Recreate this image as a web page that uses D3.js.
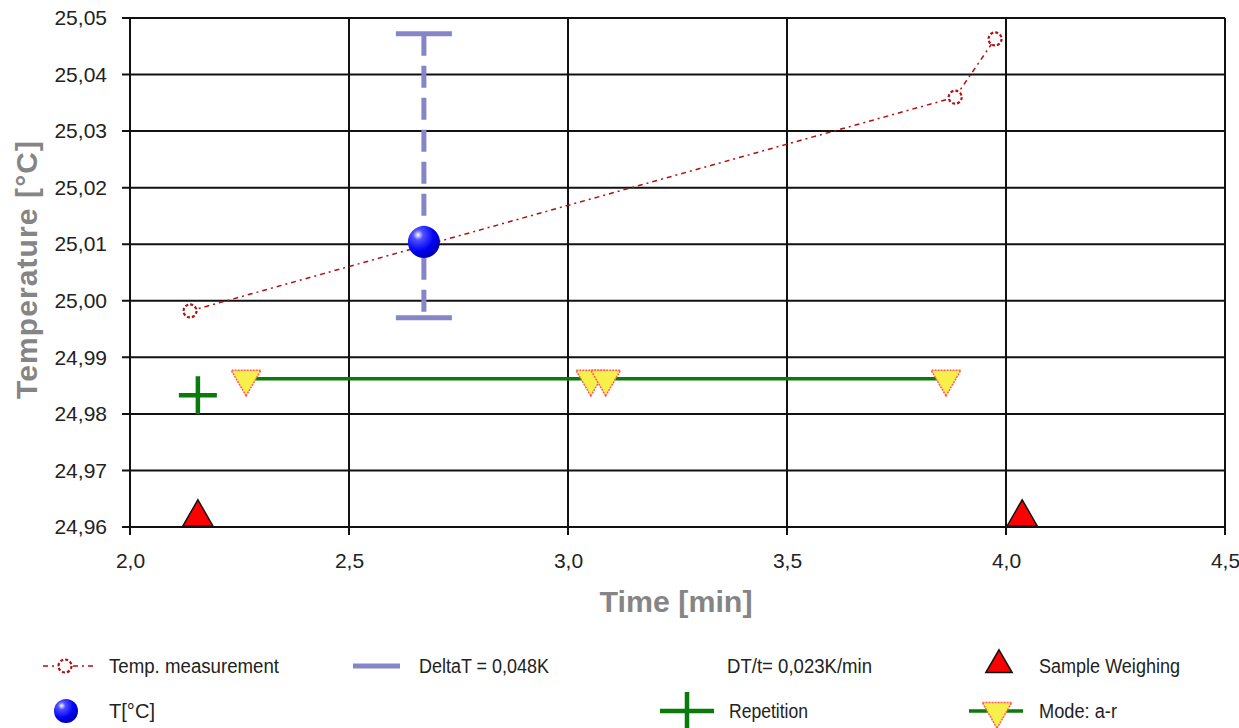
<!DOCTYPE html>
<html><head><meta charset="utf-8">
<script src="https://cdn.jsdelivr.net/npm/d3@7/dist/d3.min.js"></script>
<style>
html,body{margin:0;padding:0;background:#fff;}
svg{display:block;font-family:"Liberation Sans",Arial,sans-serif;}
</style></head>
<body>
<svg id="chart" width="1239" height="728"></svg>
<script>
// ---- data ----
const xTicks = [2.0, 2.5, 3.0, 3.5, 4.0, 4.5];
const yTicks = [24.96, 24.97, 24.98, 24.99, 25.00, 25.01, 25.02, 25.03, 25.04, 25.05];
const tempTime = [2.137, 3.884, 3.975];
const tempValue = [24.9982, 25.0360, 25.0463];
const meanTime = [2.671];
const meanValue = [25.0104];
const deltaLow = [24.9970];
const deltaHigh = [25.0472];
const repTime = [2.155];
const repValue = [24.9833];
const modeTime = [2.265, 3.052, 3.086, 3.863];
const modeValue = [24.9862, 24.9862, 24.9862, 24.9862];
const weighTime = [2.155, 4.037];
const weighValue = [24.9617, 24.9617];
const legendLabels = ["Temp. measurement", "DeltaT = 0,048K", "DT/t= 0,023K/min", "Sample Weighing", "T[°C]", "Repetition", "Mode: a-r"];

const svg = d3.select("#chart");
const x = d3.scaleLinear().domain([2.0, 4.5]).range([130, 1225]);
const y = d3.scaleLinear().domain([24.96, 25.05]).range([527, 18]);
const loc = d3.formatLocale({decimal: ",", thousands: ".", grouping: [3], currency: ["", ""]});
const fy = loc.format(".2f"), fx = loc.format(".1f");

const defs = svg.append("defs");
const rg = defs.append("radialGradient").attr("id", "ball").attr("cx", "32%").attr("cy", "28%").attr("r", "72%");
rg.append("stop").attr("offset", "0%").attr("stop-color", "#ffffff");
rg.append("stop").attr("offset", "22%").attr("stop-color", "#5050ff");
rg.append("stop").attr("offset", "70%").attr("stop-color", "#0000f5");
rg.append("stop").attr("offset", "100%").attr("stop-color", "#0000b8");

// ---- grid ----
const grid = svg.append("g");
grid.selectAll("line.h").data(yTicks).join("line")
  .attr("x1", x(2.0) - 8).attr("x2", x(4.5))
  .attr("y1", d => y(d)).attr("y2", d => y(d))
  .attr("stroke", "#111").attr("stroke-width", 2);
grid.selectAll("line.v").data(xTicks).join("line")
  .attr("x1", d => x(d)).attr("x2", d => x(d))
  .attr("y1", y(25.05)).attr("y2", y(24.96) + 8)
  .attr("stroke", "#111").attr("stroke-width", 2);

// ---- axes (labels) ----
const ya = svg.append("g").attr("transform", `translate(${x(2.0)},0)`)
  .call(d3.axisLeft(y).tickValues(yTicks).tickFormat(fy).tickSize(8).tickPadding(15));
ya.select(".domain").remove();
ya.selectAll("line").remove();
ya.selectAll("text").attr("font-size", 21).attr("fill", "#222").attr("font-family", "Liberation Sans, Arial");

const xa = svg.append("g").attr("transform", `translate(0,${y(24.96)})`)
  .call(d3.axisBottom(x).tickValues(xTicks).tickFormat(fx).tickSize(8).tickPadding(18));
xa.select(".domain").remove();
xa.selectAll("line").remove();
xa.selectAll("text").attr("font-size", 21).attr("fill", "#222").attr("font-family", "Liberation Sans, Arial");

// axis titles
svg.append("text").attr("x", 676).attr("y", 612).attr("text-anchor", "middle")
  .attr("font-size", 29).attr("font-weight", "bold").attr("fill", "#858585")
  .attr("textLength", 153).attr("lengthAdjust", "spacingAndGlyphs").text("Time [min]");
svg.append("text").attr("transform", "translate(37,270) rotate(-90)").attr("text-anchor", "middle")
  .attr("font-size", 30).attr("font-weight", "bold").attr("fill", "#858585")
  .attr("textLength", 258).attr("lengthAdjust", "spacing").text("Temperature [°C]");

// ---- marks ----
const tempPts = tempTime.map((t, i) => [t, tempValue[i]]);
const red = "#b01010";
svg.append("path").datum(tempPts)
  .attr("d", d3.line().x(d => x(d[0])).y(d => y(d[1])))
  .attr("fill", "none").attr("stroke", red).attr("stroke-width", 1.5).attr("stroke-dasharray", "5,4,2,4");
svg.selectAll("circle.tp").data(tempPts).join("circle")
  .attr("cx", d => x(d[0])).attr("cy", d => y(d[1])).attr("r", 6.5)
  .attr("fill", "#fff").attr("stroke", red).attr("stroke-width", 2.2).attr("stroke-dasharray", "3,2");

// error bar
const eb = "#8585c8";
meanTime.forEach((t, i) => {
  const cx = x(t);
  svg.append("line").attr("x1", cx).attr("x2", cx).attr("y1", y(deltaHigh[i])).attr("y2", y(deltaLow[i]))
    .attr("stroke", eb).attr("stroke-width", 5).attr("stroke-dasharray", "22,10");
  [deltaHigh[i], deltaLow[i]].forEach(v => {
    svg.append("line").attr("x1", cx - 28).attr("x2", cx + 28).attr("y1", y(v)).attr("y2", y(v))
      .attr("stroke", eb).attr("stroke-width", 5);
  });
});
svg.selectAll("circle.ball").data(meanTime).join("circle")
  .attr("cx", d => x(d)).attr("cy", (d, i) => y(meanValue[i])).attr("r", 16)
  .attr("fill", "url(#ball)");

// mode line + triangles
const green = "#0a7a0a";
svg.append("line").attr("x1", x(d3.min(modeTime))).attr("x2", x(d3.max(modeTime)))
  .attr("y1", y(modeValue[0])).attr("y2", y(modeValue[0]))
  .attr("stroke", green).attr("stroke-width", 3.5);
const downTri = d3.symbol().type(d3.symbolTriangle).size(380);
svg.selectAll("path.mode").data(modeTime).join("path")
  .attr("d", downTri)
  .attr("transform", (d, i) => `translate(${x(d)},${y(modeValue[i])}) rotate(180)`)
  .attr("fill", "#f7f04a").attr("stroke", "#ff5a5a").attr("stroke-width", 1.5).attr("stroke-dasharray", "2,1");

// repetition plus
repTime.forEach((t, i) => {
  const cx = x(t), cy = y(repValue[i]);
  svg.append("path").attr("d", `M${cx - 19},${cy}H${cx + 19}M${cx},${cy - 19}V${cy + 19}`)
    .attr("stroke", green).attr("stroke-width", 4.5).attr("fill", "none");
});

// sample weighing triangles
const upTri = d3.symbol().type(d3.symbolTriangle).size(400);
svg.selectAll("path.w").data(weighTime).join("path")
  .attr("d", upTri)
  .attr("transform", (d, i) => `translate(${x(d)},${y(weighValue[i])})`)
  .attr("fill", "#ff0000").attr("stroke", "#111").attr("stroke-width", 1.5);

// ---- legend ----
const lg = svg.append("g");
function ltext(tx, ty, s, w) {
  lg.append("text").attr("x", tx).attr("y", ty).attr("dominant-baseline", "central")
    .attr("font-size", 20).attr("fill", "#222")
    .attr("textLength", w).attr("lengthAdjust", "spacingAndGlyphs").text(s);
}
const r1 = 666, r2 = 711;
// Temp measurement
lg.append("line").attr("x1", 43).attr("x2", 93).attr("y1", r1).attr("y2", r1)
  .attr("stroke", red).attr("stroke-width", 1.5).attr("stroke-dasharray", "5,4,2,4");
lg.append("circle").attr("cx", 65).attr("cy", r1).attr("r", 6.5).attr("fill", "#fff")
  .attr("stroke", red).attr("stroke-width", 2.2).attr("stroke-dasharray", "3,2");
ltext(109, r1, legendLabels[0], 170);
// DeltaT
lg.append("line").attr("x1", 353).attr("x2", 400).attr("y1", r1).attr("y2", r1)
  .attr("stroke", eb).attr("stroke-width", 5);
ltext(419, r1, legendLabels[1], 130);
// DT/t
ltext(727, r1, legendLabels[2], 145);
// Sample Weighing
lg.append("path").attr("d", d3.symbol().type(d3.symbolTriangle).size(300))
  .attr("transform", `translate(999,${r1 - 1})`).attr("fill", "#ff0000").attr("stroke", "#111").attr("stroke-width", 1.5);
ltext(1039, r1, legendLabels[3], 141);
// T[°C]
lg.append("circle").attr("cx", 66).attr("cy", r2).attr("r", 12).attr("fill", "url(#ball)");
ltext(109, r2, legendLabels[4], 46);
// Repetition
lg.append("path").attr("d", `M660,${r2}H714M687,${r2 - 19}V${r2 + 19}`)
  .attr("stroke", green).attr("stroke-width", 4.5).attr("fill", "none");
ltext(729, r2, legendLabels[5], 79);
// Mode
lg.append("line").attr("x1", 969).attr("x2", 1023).attr("y1", r2).attr("y2", r2)
  .attr("stroke", green).attr("stroke-width", 3.5);
lg.append("path").attr("d", downTri).attr("transform", `translate(997,${r2}) rotate(180)`)
  .attr("fill", "#f7f04a").attr("stroke", "#ff5a5a").attr("stroke-width", 1.5).attr("stroke-dasharray", "2,1");
ltext(1039, r2, legendLabels[6], 78);
</script>
</body></html>
